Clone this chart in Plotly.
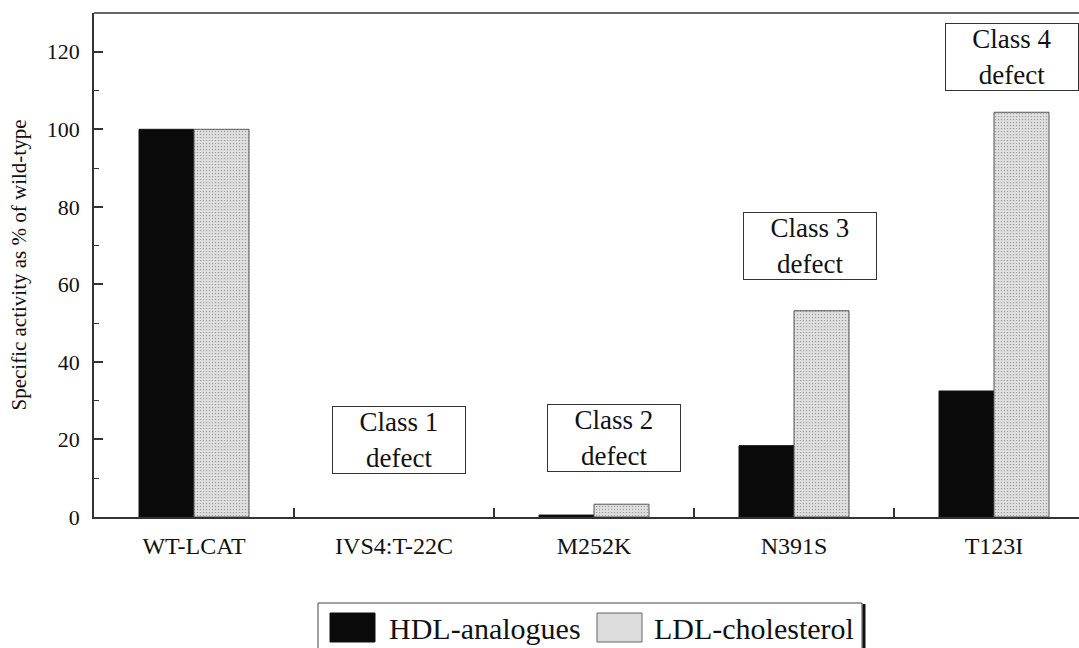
import plotly.graph_objects as go

categories = ["WT-LCAT", "IVS4:T-22C", "M252K", "N391S", "T123I"]
hdl_values = [100, 0, 0.5, 18.4, 32.5]
ldl_values = [100, 0, 3.3, 53.2, 104.4]
series_names = ["HDL-analogues", "LDL-cholesterol"]
y_ticks = [0, 20, 40, 60, 80, 100, 120]
class_labels = ["Class 1<br>defect", "Class 2<br>defect", "Class 3<br>defect", "Class 4<br>defect"]
class_x = [1.025, 2.1, 3.08, 4.09]
class_y = [19.8, 20.4, 69.9, 118.6]

FONT = "Liberation Serif, Times New Roman, DejaVu Serif, serif"
L, T, B, W, H = 94, 13, 131, 1079, 648
PW, PH = W - L, H - T - B

def outline_widths(vals):
    return [1 if v > 0 else 0 for v in vals]

fig = go.Figure()
fig.add_trace(go.Bar(
    x=categories, y=hdl_values, name=series_names[0],
    marker=dict(color="#0a0a0a", line=dict(color="#111", width=outline_widths(hdl_values))),
    showlegend=False,
))
fig.add_trace(go.Bar(
    x=categories, y=ldl_values, name=series_names[1],
    marker=dict(color="#dcdcdc", line=dict(color="#555", width=outline_widths(ldl_values)),
                pattern=dict(shape=".", size=3, solidity=0.25,
                             fgcolor="#a8a8a8", bgcolor="#e2e2e2", fillmode="replace")),
    showlegend=False,
))

for txt, xx, yy in zip(class_labels, class_x, class_y):
    fig.add_annotation(x=xx, y=yy, xref="x", yref="y", text=txt, showarrow=False,
                       font=dict(family=FONT, size=27, color="#111"),
                       width=130, height=64, borderpad=1, borderwidth=1,
                       bordercolor="#333", bgcolor="white", align="center")

def px2x(p):
    return (p - L) / PW

def py2y(p):
    return (H - B - p) / PH

# top frame line
fig.add_shape(type="line", xref="paper", yref="paper", x0=0, x1=1, y0=1, y1=1,
              line=dict(color="#333", width=1.5))

# manual legend
fig.add_shape(type="rect", xref="paper", yref="paper",
              x0=px2x(318), x1=px2x(862), y0=py2y(652), y1=py2y(603),
              line=dict(color="#444", width=1), fillcolor="white", layer="above")
fig.add_shape(type="line", xref="paper", yref="paper",
              x0=px2x(864), x1=px2x(864), y0=py2y(652), y1=py2y(604),
              line=dict(color="#111", width=3), layer="above")
swatches = [(330, 375, "#0a0a0a", "#111"), (597, 642, "#dcdcdc", "#666")]
text_x = [387, 652]
for (x0, x1, fc, lc), name, tx in zip(swatches, series_names, text_x):
    fig.add_shape(type="rect", xref="paper", yref="paper",
                  x0=px2x(x0), x1=px2x(x1), y0=py2y(642), y1=py2y(613),
                  line=dict(color=lc, width=1), fillcolor=fc, layer="above")
    fig.add_annotation(x=px2x(tx), y=py2y(628), xref="paper", yref="paper",
                       xanchor="left", yanchor="middle", text=name, showarrow=False,
                       font=dict(family=FONT, size=30, color="#111"))

fig.update_layout(
    width=W, height=H,
    margin=dict(l=L, r=0, t=T, b=B, autoexpand=False),
    paper_bgcolor="white", plot_bgcolor="white",
    barmode="group", bargap=0.45, bargroupgap=0,
    font=dict(family=FONT, color="#111"),
    showlegend=False,
)
fig.update_xaxes(
    type="category", range=[-0.5, 4.425],
    showline=True, linecolor="#333", linewidth=1.5,
    ticks="inside", tickson="boundaries", ticklen=9, tickcolor="#333", tickwidth=1.5,
    tickfont=dict(family=FONT, size=24, color="#111"), ticklabelstandoff=6,
    showgrid=False, zeroline=False,
)
fig.update_yaxes(
    range=[0, 130], tickvals=y_ticks,
    showline=True, linecolor="#333", linewidth=1.5,
    ticks="inside", ticklen=9, tickcolor="#333", tickwidth=1.5,
    minor=dict(dtick=10, ticks="inside", ticklen=5, tickcolor="#333", tickwidth=1),
    tickfont=dict(family=FONT, size=22, color="#111"), ticklabelstandoff=8,
    title=dict(text="Specific activity as % of wild-type", font=dict(family=FONT, size=21, color="#111"),
               standoff=14),
    showgrid=False, zeroline=False,
)

fig.write_html("out.html", config={"displayModeBar": False},
               post_script="document.body.style.margin='0';")
